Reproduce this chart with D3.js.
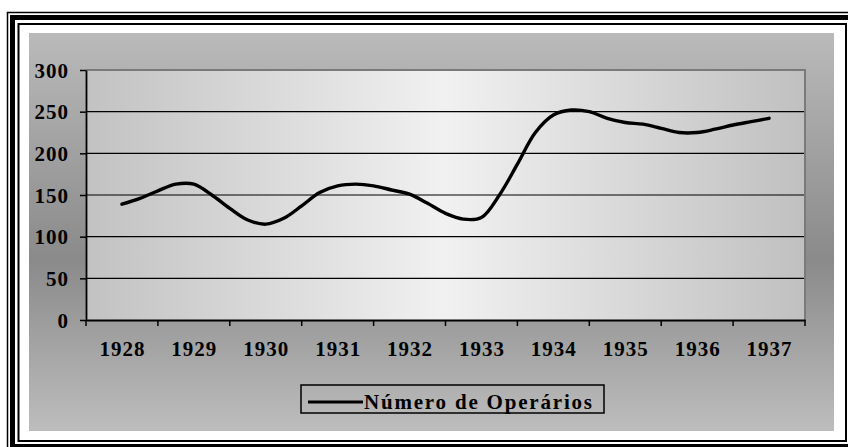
<!DOCTYPE html>
<html>
<head>
<meta charset="utf-8">
<script src="https://cdn.jsdelivr.net/npm/d3@7"></script>
<style>
  html, body { margin: 0; padding: 0; background: #ffffff; }
  svg { display: block; }
  text { font-family: "Liberation Serif", "Times New Roman", serif; font-weight: bold; fill: #000; }
</style>
</head>
<body>
<svg id="chart" width="848" height="447"></svg>
<script>
// ---- data ----
const years = ["1928","1929","1930","1931","1932","1933","1934","1935","1936","1937"];
const yTicks = [0, 50, 100, 150, 200, 250, 300];
const seriesName = "Número de Operários";
// quarterly readings, starting at 1928 and ending at 1937
const operarios = [139, 146, 155, 163, 163, 150, 134, 120, 115,
                   122, 137, 153, 161, 163, 161, 156, 151,
                   140, 128, 121, 123, 150, 187, 225, 246,
                   252, 250, 242, 237, 235, 230, 225, 225,
                   229, 234, 238, 242];
const stepsPerYear = 4;

// ---- layout ----
const plot = { left: 86, right: 805, top: 70, bottom: 320 };
const chartArea = { x: 29, y: 33, w: 805, h: 398 };
const FONT = "'Liberation Serif', 'Times New Roman', serif";

const svg = d3.select("#chart");
const defs = svg.append("defs");

const gChart = defs.append("linearGradient").attr("id", "gChart")
  .attr("x1", 0).attr("y1", 0).attr("x2", 0).attr("y2", 1);
gChart.append("stop").attr("offset", "0%").attr("stop-color", "#bababa");
gChart.append("stop").attr("offset", "57%").attr("stop-color", "#8a8a8a");
gChart.append("stop").attr("offset", "100%").attr("stop-color", "#bdbdbd");

const gPlot = defs.append("linearGradient").attr("id", "gPlot")
  .attr("x1", 0).attr("y1", 0).attr("x2", 1).attr("y2", 0);
gPlot.append("stop").attr("offset", "0%").attr("stop-color", "#c2c2c2");
gPlot.append("stop").attr("offset", "50%").attr("stop-color", "#f1f1f1");
gPlot.append("stop").attr("offset", "100%").attr("stop-color", "#c0c0c0");

// ---- frame ----
svg.append("rect").attr("x", 7.5).attr("y", 12.5).attr("width", 850).attr("height", 440)
  .attr("fill", "none").attr("stroke", "#000").attr("stroke-width", 1.5);
svg.append("rect").attr("x", 12.5).attr("y", 17.5).attr("width", 839).attr("height", 429)
  .attr("fill", "none").attr("stroke", "#000").attr("stroke-width", 5);
svg.append("rect").attr("x", 18.5).attr("y", 24).attr("width", 827.5).attr("height", 417)
  .attr("fill", "none").attr("stroke", "#000").attr("stroke-width", 2);

// chart area
svg.append("rect").attr("x", chartArea.x).attr("y", chartArea.y)
  .attr("width", chartArea.w).attr("height", chartArea.h).attr("fill", "url(#gChart)");

// plot area
svg.append("rect").attr("x", plot.left).attr("y", plot.top)
  .attr("width", plot.right - plot.left).attr("height", plot.bottom - plot.top)
  .attr("fill", "url(#gPlot)");

// ---- scales ----
const xBand = d3.scaleBand().domain(years).range([plot.left, plot.right]);
const bw = xBand.bandwidth();
const y = d3.scaleLinear().domain([0, 300]).range([plot.bottom, plot.top]);
const t0 = +years[0], t1 = +years[years.length - 1];
const xT = d3.scaleLinear().domain([t0, t1])
  .range([xBand(years[0]) + bw / 2, xBand(years[years.length - 1]) + bw / 2]);

// gridlines
svg.append("g").selectAll("line").data(yTicks.filter(v => v > 0 && v < 300)).join("line")
  .attr("x1", plot.left).attr("x2", plot.right)
  .attr("y1", d => y(d)).attr("y2", d => y(d))
  .attr("stroke", "#000").attr("stroke-width", 1.2);

// plot border (top & right, gray)
svg.append("path")
  .attr("d", `M${plot.left},${y(300)}H${plot.right}V${plot.bottom}`)
  .attr("fill", "none").attr("stroke", "#7a7a7a").attr("stroke-width", 2);

// ---- line ----
const line = d3.line()
  .x((d, i) => xT(t0 + i / stepsPerYear))
  .y(d => y(d))
  .curve(d3.curveCatmullRom.alpha(0.5));
svg.append("path").datum(operarios)
  .attr("d", line)
  .attr("fill", "none").attr("stroke", "#000").attr("stroke-width", 3.4)
  .attr("stroke-linejoin", "round").attr("stroke-linecap", "round");

// ---- y axis ----
const yAxis = d3.axisLeft(y).tickValues(yTicks).tickSize(6).tickPadding(10).tickSizeOuter(0);
const gy = svg.append("g").attr("transform", `translate(${plot.left},0)`).call(yAxis);
gy.select(".domain").attr("stroke", "#000").attr("stroke-width", 1.8);
gy.selectAll(".tick line").attr("stroke", "#000").attr("stroke-width", 1.5);
gy.selectAll(".tick text")
  .attr("font-family", FONT).attr("font-weight", "bold").attr("font-size", 21)
  .style("letter-spacing", "1px").attr("dy", "0.34em").attr("x", -17);

// ---- x axis ----
const xAxis = d3.axisBottom(xBand).tickSize(0).tickPadding(21).tickSizeOuter(0);
const gx = svg.append("g").attr("transform", `translate(0,${plot.bottom})`).call(xAxis);
gx.select(".domain").attr("stroke", "#000").attr("stroke-width", 1.8);
gx.selectAll(".tick text")
  .attr("font-family", FONT).attr("font-weight", "bold").attr("font-size", 21)
  .style("letter-spacing", "1px").attr("dx", "0.5px").attr("dy", "0.71em");
// tick marks at category boundaries
const bounds = years.map(d => xBand(d)).concat([xBand(years[years.length - 1]) + bw]);
svg.append("g").selectAll("line").data(bounds).join("line")
  .attr("x1", d => d).attr("x2", d => d)
  .attr("y1", plot.bottom).attr("y2", plot.bottom + 6)
  .attr("stroke", "#000").attr("stroke-width", 1.5);

// ---- legend ----
const lg = svg.append("g");
lg.append("rect").attr("x", 301).attr("y", 385).attr("width", 303).attr("height", 28)
  .attr("fill", "none").attr("stroke", "#000").attr("stroke-width", 1.5);
lg.append("line").attr("x1", 308).attr("x2", 363).attr("y1", 402).attr("y2", 402)
  .attr("stroke", "#000").attr("stroke-width", 3);
lg.append("text").attr("x", 364).attr("y", 409)
  .attr("font-family", FONT).attr("font-size", 21).style("letter-spacing", "1.8px")
  .text(seriesName);
</script>
</body>
</html>
